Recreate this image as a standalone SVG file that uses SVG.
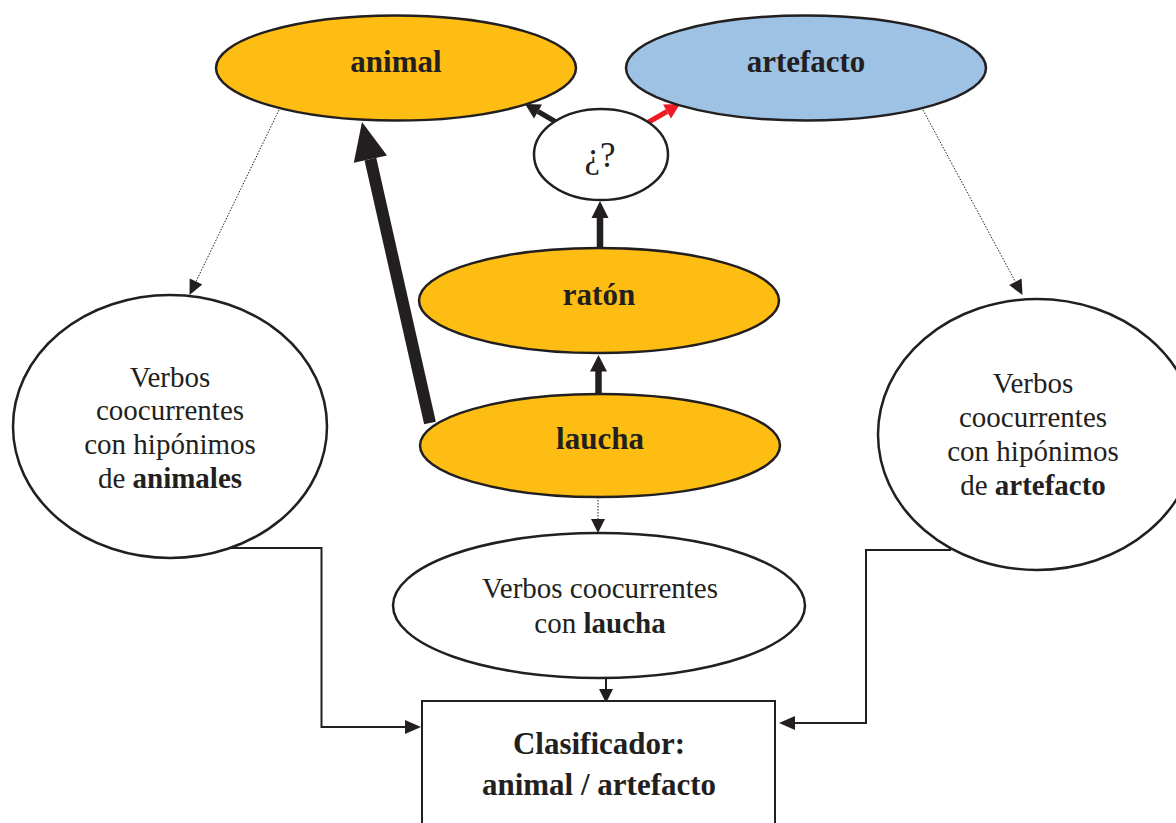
<svg xmlns="http://www.w3.org/2000/svg" width="1176" height="823" viewBox="0 0 1176 823">
<style>
.node { stroke: #231F20; stroke-width: 2.5; }
.yellow { fill: #FDBD13; }
.blue { fill: #9DC2E4; }
.white { fill: #FFFFFF; }
.lbl { font-family: "Liberation Serif", "Times New Roman", serif; fill: #231F20; text-anchor: middle; }
.b { font-weight: bold; font-size: 31px; }
.r { font-size: 29px; }
.head { fill: #231F20; stroke: none; }
.dot { stroke: #231F20; stroke-width: 1; stroke-dasharray: 1.5 1.5; fill: none; }
.elbow { stroke: #231F20; stroke-width: 2; fill: none; }
</style>
<rect width="1176" height="823" fill="#FFFFFF"/>

<g id="connectors">
  <!-- thick laucha -> animal -->
  <line x1="430" y1="423" x2="370.4" y2="159.1" stroke="#231F20" stroke-width="12"/>
  <polygon class="head" points="362,122 387,155.4 353.8,162.8"/>
  <!-- ¿? -> animal -->
  <line x1="556" y1="122" x2="538" y2="111.5" stroke="#231F20" stroke-width="5"/>
  <polygon class="head" points="525,104 542,104.6 534,118.4"/>
  <!-- ¿? -> artefacto (red) -->
  <line x1="647" y1="123" x2="667" y2="111.5" stroke="#ED1C24" stroke-width="5"/>
  <polygon fill="#ED1C24" points="680,104 671,118.4 663,104.6"/>
  <!-- ratón -> ¿? -->
  <line x1="600" y1="248" x2="600" y2="216" stroke="#231F20" stroke-width="6.5"/>
  <polygon class="head" points="600,201 608.5,218 591.5,218"/>
  <!-- laucha -> ratón -->
  <line x1="598.5" y1="393" x2="598.5" y2="369" stroke="#231F20" stroke-width="6.5"/>
  <polygon class="head" points="598.5,355 607,371.5 590,371.5"/>
  <!-- dotted animal -> left circle -->
  <line class="dot" x1="279" y1="110" x2="196" y2="281.5"/>
  <polygon class="head" points="189.5,295 202.3,284.5 189.7,278.4"/>
  <!-- dotted artefacto -> right circle -->
  <line class="dot" x1="923" y1="110" x2="1015.4" y2="281.8"/>
  <polygon class="head" points="1022.5,295 1009.2,285.1 1021.6,278.5"/>
  <!-- dotted laucha -> verbos laucha -->
  <line class="dot" x1="598" y1="497" x2="598" y2="519"/>
  <polygon class="head" points="598,533 605,519 591,519"/>
  <!-- elbow left -->
  <path class="elbow" d="M224 548 H321.5 V727 H406"/>
  <polygon class="head" points="421,727 405,720 405,734"/>
  <!-- elbow right -->
  <path class="elbow" d="M951 550 H866 V723 H794"/>
  <polygon class="head" points="779,723 795,716 795,730"/>
  <!-- verbos laucha -> clasificador -->
  <line class="elbow" x1="606" y1="678" x2="606" y2="690"/>
  <polygon class="head" points="606,703 613,689 599,689"/>
</g>

<g id="node-animal">
  <ellipse class="node yellow" cx="396" cy="68" rx="180" ry="52.5"/>
  <text class="lbl b" x="396" y="72">animal</text>
</g>

<g id="node-artefacto">
  <ellipse class="node blue" cx="806" cy="68" rx="180" ry="52.5"/>
  <text class="lbl b" x="806" y="72">artefacto</text>
</g>

<g id="node-question">
  <ellipse class="node white" cx="601" cy="154.5" rx="67" ry="45.5"/>
  <text class="lbl" x="600" y="167" font-size="35">¿?</text>
</g>

<g id="node-raton">
  <ellipse class="node yellow" cx="599" cy="300.5" rx="180" ry="52.5"/>
  <text class="lbl b" x="599" y="305">ratón</text>
</g>

<g id="node-laucha">
  <ellipse class="node yellow" cx="600" cy="445.5" rx="180" ry="51.5"/>
  <text class="lbl b" x="600" y="449">laucha</text>
</g>

<g id="node-verbos-animales">
  <ellipse class="node white" cx="170" cy="426.5" rx="157" ry="131.5"/>
  <text class="lbl r" x="170" y="387">Verbos</text>
  <text class="lbl r" x="170" y="420">coocurrentes</text>
  <text class="lbl r" x="170" y="454">con hipónimos</text>
  <text class="lbl r" x="170" y="488">de <tspan font-weight="bold">animales</tspan></text>
</g>

<g id="node-verbos-artefacto">
  <ellipse class="node white" cx="1037" cy="434.5" rx="159" ry="135.5"/>
  <text class="lbl r" x="1033" y="393">Verbos</text>
  <text class="lbl r" x="1033" y="427">coocurrentes</text>
  <text class="lbl r" x="1033" y="461">con hipónimos</text>
  <text class="lbl r" x="1033" y="495">de <tspan font-weight="bold">artefacto</tspan></text>
</g>

<g id="node-verbos-laucha">
  <ellipse class="node white" cx="599" cy="605.5" rx="206" ry="72.5"/>
  <text class="lbl r" x="600" y="598">Verbos coocurrentes</text>
  <text class="lbl r" x="600" y="633">con <tspan font-weight="bold">laucha</tspan></text>
</g>

<g id="node-clasificador">
  <rect x="422" y="701" width="353" height="140" fill="#FFFFFF" stroke="#231F20" stroke-width="2"/>
  <text class="lbl b" x="599" y="754">Clasificador:</text>
  <text class="lbl b" x="599" y="795">animal / artefacto</text>
</g>
</svg>
